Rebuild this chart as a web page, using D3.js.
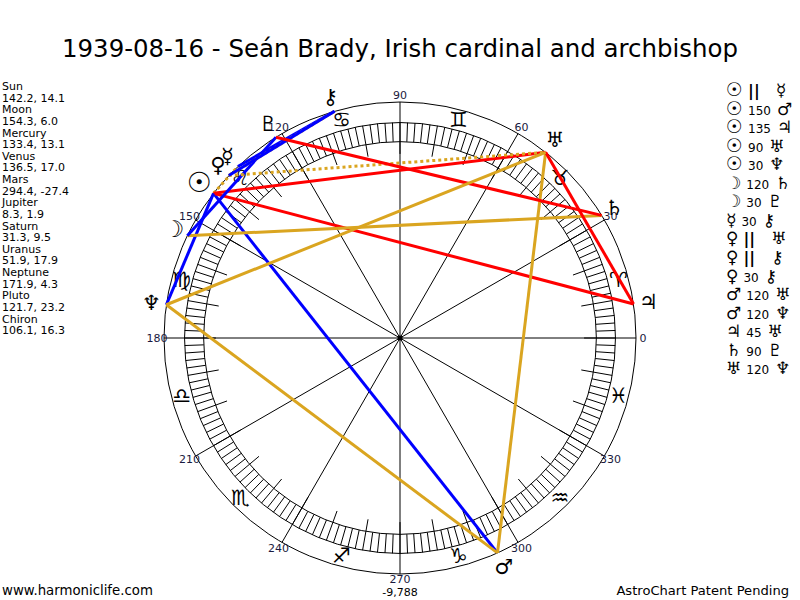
<!DOCTYPE html>
<html><head><meta charset="utf-8">
<script src="https://cdn.jsdelivr.net/npm/d3@7"></script>
<style>body{margin:0;background:#fff;} svg{display:block}</style>
</head><body>
<svg id="c" width="800" height="600"></svg>
<script>
// ---- data ----
const chartTitle = "1939-08-16 - Seán Brady, Irish cardinal and archbishop";
const planetNames = ["Sun","Moon","Mercury","Venus","Mars","Jupiter","Saturn","Uranus","Neptune","Pluto","Chiron"];
const planetLongitudes = [142.2,154.3,133.4,136.5,294.4,8.3,31.3,51.9,171.9,121.7,106.1];
const planetDeclinations = ["14.1","6.0","13.1","17.0","-27.4","1.9","9.5","17.9","4.3","23.2","16.3"];
const planetGlyphs = ["\u2609","\u263D","\u263F","\u2640","\u2642","\u2643","\u2644","\u2645","\u2646","\u2647","\u26B7"];
const aspectFrom = ["Sun","Sun","Sun","Sun","Sun","Moon","Moon","Mercury","Venus","Venus","Venus","Mars","Mars","Jupiter","Saturn","Uranus"];
const aspectTo   = ["Mercury","Mars","Jupiter","Uranus","Neptune","Saturn","Pluto","Chiron","Uranus","Chiron","Chiron","Uranus","Neptune","Uranus","Pluto","Neptune"];
const aspectKinds = ["||","150","135","90","30","120","30","30","||","||","30","120","120","45","90","120"];
const degreeLabels = [0,30,60,90,120,150,180,210,240,270,300,330];
const signGlyphs = ["\u2648","\u2649","\u264A","\u264B","\u264C","\u264D","\u264E","\u264F","\u2650","\u2651","\u2652","\u2653"];
const signMidpoints = [15,45,75,105,135,165,195,225,255,285,315,345];
const bottomValue = "-9,788";

// ---- layout ----
const svg = d3.select("#c");
const cx = 400, cy = 338;
const ang = d3.scaleLinear().domain([0,360]).range([0, 2*Math.PI]);
const rad = d3.scaleLinear().domain([0,1]).range([0,236]); // 1 = outer circle
const R = rad(1);
const px = (deg, r) => cx + r*Math.cos(ang(deg));
const py = (deg, r) => cy - r*Math.sin(ang(deg));
const FONT = "DejaVu Sans";
const ink = "#000";

// title
svg.append("text").attr("x",400).attr("y",57).attr("text-anchor","middle")
  .attr("font-family","DejaVu Sans Condensed").attr("font-size",25)
  .attr("textLength",676).attr("lengthAdjust","spacingAndGlyphs")
  .attr("fill",ink).text(chartTitle);

// circles
const g = svg.append("g");
g.append("circle").attr("cx",cx).attr("cy",cy).attr("r",R).attr("fill","none").attr("stroke","#000");
g.append("circle").attr("cx",cx).attr("cy",cy).attr("r",rad(0.913)).attr("fill","none").attr("stroke","#000");
g.append("circle").attr("cx",cx).attr("cy",cy).attr("r",rad(0.832)).attr("fill","none").attr("stroke","#000");

// ring ticks every 2 degrees
const ringTicks = d3.range(0,360,2);
g.selectAll("line.rt").data(ringTicks).join("line")
  .attr("x1",d=>px(d,rad(0.832))).attr("y1",d=>py(d,rad(0.832)))
  .attr("x2",d=>px(d,rad(0.913))).attr("y2",d=>py(d,rad(0.913)))
  .attr("stroke","#000").attr("stroke-width",1);
// long ticks every 10 degrees
const longTicks = d3.range(0,360,10);
g.selectAll("line.lt").data(longTicks).join("line")
  .attr("x1",d=>px(d,rad(0.78))).attr("y1",d=>py(d,rad(0.78)))
  .attr("x2",d=>px(d,rad(0.832))).attr("y2",d=>py(d,rad(0.832)))
  .attr("stroke","#000").attr("stroke-width",1);
// spokes every 30 degrees
g.selectAll("line.sp").data(degreeLabels).join("line")
  .attr("x1",cx).attr("y1",cy)
  .attr("x2",d=>px(d,R)).attr("y2",d=>py(d,R))
  .attr("stroke","#000").attr("stroke-width",1);
g.append("circle").attr("cx",cx).attr("cy",cy).attr("r",2.5).attr("fill","#000");

// degree labels
g.selectAll("text.dl").data(degreeLabels).join("text")
  .attr("x",d=>px(d,243)).attr("y",d=>py(d,d===270?241:243))
  .attr("text-anchor","middle").attr("dominant-baseline","central")
  .attr("font-family",FONT).attr("font-size",11).attr("fill","#1a1a40").text(d=>d);
svg.append("text").attr("x",400).attr("y",596).attr("text-anchor","middle")
  .attr("font-family",FONT).attr("font-size",11).attr("fill",ink).text(bottomValue);

// sign glyphs
g.selectAll("text.sg").data(signGlyphs).join("text")
  .attr("x",(d,i)=>px(signMidpoints[i],226)).attr("y",(d,i)=>py(signMidpoints[i],226))
  .attr("text-anchor","middle").attr("dominant-baseline","central")
  .attr("font-family",FONT).attr("font-size",21).attr("fill",ink).text(d=>d);

// aspects
const lonOf = n => planetLongitudes[planetNames.indexOf(n)];
const kindColor = k => (k==="||"||k==="120") ? "#daa520" : (k==="30"||k==="150"||k==="60") ? "#0000ff" : "#ff0000";
const aspects = aspectFrom.map((f,i)=>({a:lonOf(f), b:lonOf(aspectTo[i]), k:aspectKinds[i]}));
g.selectAll("line.as").data(aspects).join("line")
  .attr("x1",d=>px(d.a,R)).attr("y1",d=>py(d.a,R))
  .attr("x2",d=>px(d.b,R)).attr("y2",d=>py(d.b,R))
  .attr("stroke",d=>kindColor(d.k)).attr("stroke-width",3)
  .attr("stroke-dasharray",d=>d.k==="||"?"3,3":null);

// planet glyphs
const planets = planetNames.map((n,i)=>({n, lon:planetLongitudes[i], gl:planetGlyphs[i]}));
g.selectAll("text.pg").data(planets).join("text")
  .attr("x",d=>px(d.lon, d.n==="Sun"?254:251)).attr("y",d=>py(d.lon, d.n==="Sun"?254:251))
  .attr("text-anchor","middle").attr("dominant-baseline","central")
  .attr("font-family",FONT).attr("font-size",d=>d.n==="Sun"?28:d.n==="Moon"?23:21)
  .attr("font-weight",d=>d.n==="Sun"?"bold":"normal")
  .attr("fill",ink).text(d=>d.gl);

// left list
const left = svg.append("g");
planetNames.forEach((n,i)=>{
  left.append("text").attr("x",2).attr("y",90+(2*i)*11.63)
    .attr("font-family",FONT).attr("font-size",11).attr("fill",ink).text(n);
  left.append("text").attr("x",2).attr("y",90+(2*i+1)*11.63)
    .attr("font-family",FONT).attr("font-size",11).attr("fill",ink)
    .text(planetLongitudes[i].toFixed(1)+", "+planetDeclinations[i]);
});

// right aspect list
const glyphOf = n => planetGlyphs[planetNames.indexOf(n)];
aspectFrom.forEach((f,i)=>{
  const t = svg.append("text").attr("x",726).attr("y",96+i*18.56)
    .attr("font-family",FONT).attr("fill",ink);
  t.append("tspan").attr("font-size",f==="Sun"?19:17).attr("font-weight",f==="Sun"?"bold":"normal").text(glyphOf(f));
  if (aspectKinds[i]==="||") {
    t.append("tspan").attr("dx",5).attr("font-size",16).attr("font-weight","bold").text("||");
    t.append("tspan").attr("dx",16).attr("font-size",17).text(glyphOf(aspectTo[i]));
  } else {
    t.append("tspan").attr("dx",5).attr("font-size",12).text(aspectKinds[i]);
    t.append("tspan").attr("dx",6).attr("font-size",17).text(glyphOf(aspectTo[i]));
  }
});

// footer
svg.append("text").attr("x",2).attr("y",595).attr("font-family",FONT).attr("font-size",13.3).attr("fill",ink).text("www.harmoniclife.com");
svg.append("text").attr("x",789).attr("y",595).attr("text-anchor","end").attr("font-family",FONT).attr("font-size",13.1).attr("fill",ink).text("AstroChart Patent Pending");
</script>
</body></html>
